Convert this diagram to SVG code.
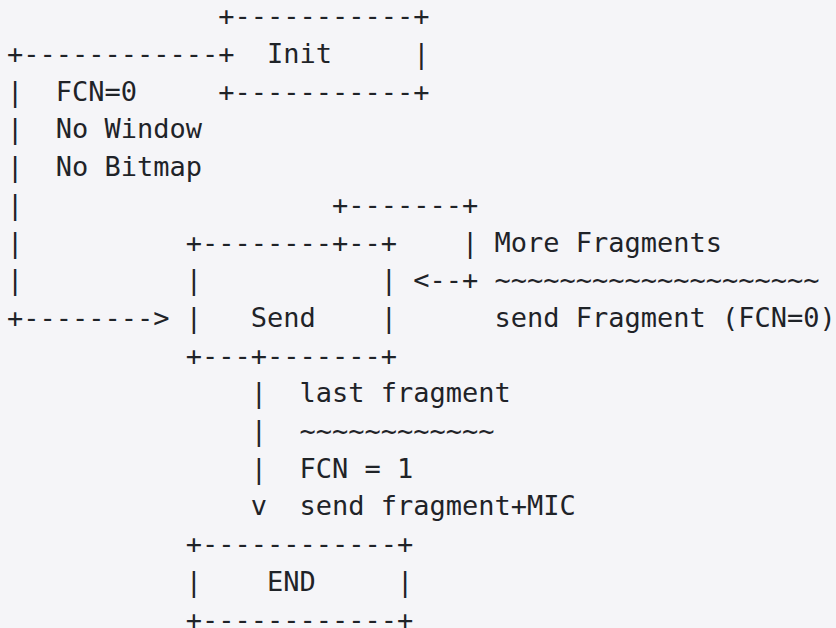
<svg xmlns="http://www.w3.org/2000/svg" width="836" height="628" viewBox="0 0 836 628">
<style>
text{font-family:"DejaVu Sans Mono","Liberation Mono",monospace;font-size:27px;fill:#1f2328;white-space:pre}
</style>
<rect width="836" height="628" fill="#f5f5f8"/>
<g id="connectors">
<text x="7" y="63">+------------</text>
<text x="7" y="100.7">|</text>
<text x="7" y="138.4">|</text>
<text x="7" y="176.1">|</text>
<text x="7" y="213.8">|</text>
<text x="7" y="251.5">|</text>
<text x="7" y="289.2">|</text>
<text x="7" y="326.9">+--------&gt;</text>
<text x="332" y="213.8">+-------+</text>
<text x="462" y="251.5">|</text>
<text x="413.25" y="289.2">&lt;--+</text>
<text x="250.75" y="402.3">|</text>
<text x="250.75" y="440">|</text>
<text x="250.75" y="477.7">|</text>
<text x="250.75" y="515.4">v</text>
</g>
<g id="labels">
<text x="55.75" y="100.7">FCN=0</text>
<text x="55.75" y="138.4">No Window</text>
<text x="55.75" y="176.1">No Bitmap</text>
<text x="494.5" y="251.5">More Fragments</text>
<text x="494.5" y="289.2">~~~~~~~~~~~~~~~~~~~~</text>
<text x="494.5" y="326.9">send Fragment (FCN=0)</text>
<text x="299.5" y="402.3">last fragment</text>
<text x="299.5" y="440">~~~~~~~~~~~~</text>
<text x="299.5" y="477.7">FCN = 1</text>
<text x="299.5" y="515.4">send fragment+MIC</text>
</g>
<g id="node-init">
<text x="218.25" y="25.3">+-----------+</text>
<text x="218.25" y="63">+  Init     |</text>
<text x="218.25" y="100.7">+-----------+</text>
</g>
<g id="node-send">
<text x="185.75" y="251.5">+--------+--+</text>
<text x="185.75" y="289.2">|           |</text>
<text x="185.75" y="326.9">|   Send    |</text>
<text x="185.75" y="364.6">+---+-------+</text>
</g>
<g id="node-end">
<text x="185.75" y="553.1">+------------+</text>
<text x="185.75" y="590.8">|    END     |</text>
<text x="185.75" y="628.5">+------------+</text>
</g>
</svg>
